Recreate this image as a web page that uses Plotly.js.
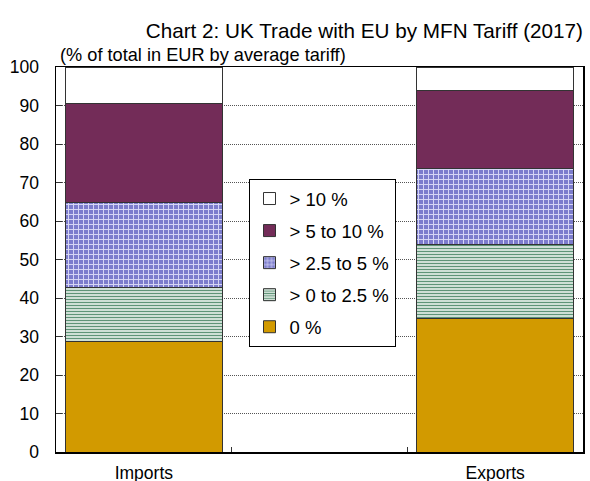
<!DOCTYPE html>
<html>
<head>
<meta charset="utf-8">
<script src="https://cdn.plot.ly/plotly-3.0.1.min.js"></script>
<style>html,body{margin:0;padding:0;background:#fff;}#chart{width:590px;height:481px;}</style>
</head>
<body>
<div id="chart"></div>
<script>
// Data
var categories = ['Imports', 'Exports'];
var axisCategories = ['Imports', ' ', 'Exports'];
var seriesNames = ['0 %', '> 0 to 2.5 %', '> 2.5 to 5 %', '> 5 to 10 %', '> 10 %'];
var zeroPct      = [28.6, 34.8];
var upTo2_5      = [14.0, 19.1];
var upTo5        = [22.3, 19.8];
var upTo10       = [25.6, 20.1];
var over10       = [9.5, 6.2];

var seriesValues = [zeroPct, upTo2_5, upTo5, upTo10, over10];
var markers = [
  {color: '#D29A00'},
  {color: '#E6EFE9', pattern: {shape: '-', fgcolor: '#5E9477', bgcolor: '#E6EFE9', size: 3, solidity: 0.45, fillmode: 'replace'}},
  {color: '#8C8CD6', pattern: {shape: '+', fgcolor: '#D8D8F6', bgcolor: '#7C7CCC', size: 5, solidity: 0.35, fillmode: 'replace'}},
  {color: '#732C58'},
  {color: '#FFFFFF'}
];

var traces = seriesValues.map(function (vals, i) {
  var m = markers[i];
  m.line = {color: '#333333', width: 1};
  return {
    type: 'bar',
    name: seriesNames[i],
    x: categories,
    y: vals,
    legendgroup: 'g' + i,
    legendrank: seriesValues.length - i,
    marker: m,
    width: 0.893,
    hoverinfo: 'name+y'
  };
});

var layout = {
  width: 590,
  height: 481,
  barmode: 'stack',
  paper_bgcolor: '#ffffff',
  plot_bgcolor: '#ffffff',
  margin: {l: 56, r: 7, t: 67, b: 29, pad: 0},
  font: {family: '"Liberation Sans", Arial, sans-serif', color: '#000000', size: 18},
  title: {
    text: 'Chart 2: UK Trade with EU by MFN Tariff (2017)',
    font: {size: 20.7, color: '#000000'},
    xref: 'container', x: 583 / 590, xanchor: 'right',
    yref: 'container', y: 1 - 31 / 481, yanchor: 'middle'
  },
  annotations: [{
    text: '(% of total in EUR by average tariff)',
    xref: 'paper', yref: 'paper', x: 0.004, y: 1.0, xanchor: 'left', yanchor: 'bottom',
    yshift: 0, showarrow: false, font: {size: 18.2, color: '#000000'}
  }],
  xaxis: {
    type: 'category',
    categoryorder: 'array',
    categoryarray: axisCategories,
    range: [-0.5, 2.5],
    tickson: 'boundaries',
    ticks: 'inside', ticklen: 5, tickcolor: '#333333', tickwidth: 1,
    showline: true, linecolor: '#000000', linewidth: 1.5, mirror: true,
    showgrid: false,
    tickfont: {size: 17.5},
    ticklabelstandoff: 4,
    fixedrange: true
  },
  yaxis: {
    range: [0, 100],
    dtick: 10,
    ticks: 'inside', ticklen: 6, tickcolor: '#333333', tickwidth: 1,
    showline: true, linecolor: '#000000', linewidth: 1.5, mirror: true,
    showgrid: true, gridcolor: '#555555', griddash: '1px,1px', gridwidth: 1,
    zeroline: false,
    tickfont: {size: 17.5},
    ticklabelstandoff: 12,
    fixedrange: true
  },
  showlegend: true,
  legend: {
    x: (322 - 56) / 527, y: (452 - 179) / 385, xanchor: 'center', yanchor: 'top',
    traceorder: 'grouped',
    tracegroupgap: 5,
    bordercolor: '#000000', borderwidth: 1, bgcolor: '#ffffff',
    itemwidth: 30,
    font: {size: 18.5, color: '#000000'}
  }
};

Plotly.newPlot('chart', traces, layout, {displayModeBar: false, staticPlot: true});
</script>
</body>
</html>
